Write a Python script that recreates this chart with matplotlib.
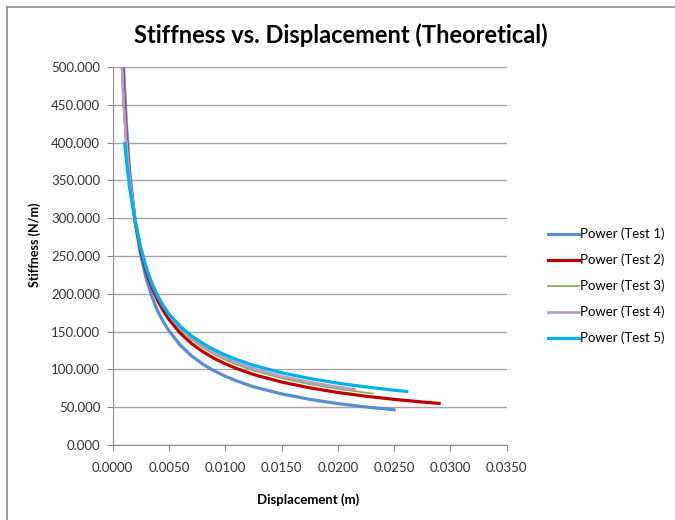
import matplotlib.pyplot as plt
from matplotlib.lines import Line2D
from matplotlib.ticker import FormatStrFormatter, MultipleLocator

plt.rcParams['font.family'] = ['Lato', 'DejaVu Sans']

x1 = [0.0008, 0.0009, 0.001, 0.0012, 0.0015, 0.002, 0.0025, 0.003, 0.0035, 0.004,
      0.0045, 0.005, 0.006, 0.007, 0.008, 0.009, 0.010, 0.011, 0.0125, 0.015,
      0.0175, 0.020, 0.0225, 0.025]
y1 = [574, 527, 488, 427, 363, 294, 250, 219, 195.6, 177,
      162.8, 151, 132, 117.9, 107, 98.2, 91, 84.8, 77, 67.6,
      60.4, 54.8, 50.3, 46.6]

x2 = [0.0008, 0.0009, 0.001, 0.0012, 0.0015, 0.002, 0.0025, 0.003, 0.0035, 0.004,
      0.0045, 0.005, 0.006, 0.007, 0.008, 0.009, 0.010, 0.011, 0.0125, 0.015,
      0.0175, 0.020, 0.0225, 0.025, 0.0275, 0.029]
y2 = [524, 487, 456, 407, 353, 295, 256, 229, 207.6, 191,
      177.3, 166, 148, 134.3, 123.5, 114.7, 107.4, 101.2, 93.3, 83.3,
      75.6, 69.5, 64.5, 60.4, 56.9, 55.0]

x3 = [0.0008, 0.0009, 0.001, 0.0012, 0.0015, 0.002, 0.0025, 0.003, 0.0035, 0.004,
      0.0045, 0.005, 0.006, 0.007, 0.008, 0.009, 0.010, 0.011, 0.0125, 0.015,
      0.0175, 0.020, 0.0225, 0.0231]
y3 = [513, 478, 448, 402, 351, 296, 259, 232, 211.4, 195,
      181.8, 171, 153, 139.5, 128.7, 120.0, 112.6, 106.4, 98.5, 88.3,
      80.5, 74.3, 69.2, 68.1]

x4 = [0.0008, 0.0009, 0.001, 0.0012, 0.0015, 0.002, 0.0025, 0.003, 0.0035, 0.004,
      0.0045, 0.005, 0.006, 0.007, 0.008, 0.009, 0.010, 0.011, 0.0125, 0.015,
      0.0175, 0.020, 0.0215]
y4 = [512, 478, 449, 403, 353, 298, 261, 235, 214.4, 198,
      184.9, 174, 156, 142.4, 131.6, 122.8, 115.4, 109.1, 101.2, 90.9,
      83.0, 76.7, 73.5]

x5 = [0.00107, 0.0012, 0.0015, 0.002, 0.0025, 0.003, 0.0035, 0.004,
      0.0045, 0.005, 0.006, 0.007, 0.008, 0.009, 0.010, 0.011, 0.0125, 0.015,
      0.0175, 0.020, 0.0225, 0.025, 0.0261]
y5 = [399, 378, 340, 295, 260, 233, 212, 197,
      183.4, 173, 157, 144.4, 134.4, 126.1, 119.1, 113.1, 105.5, 95.6,
      88.0, 81.8, 76.8, 72.5, 70.9]

labels = ['Power (Test 1)', 'Power (Test 2)', 'Power (Test 3)',
          'Power (Test 4)', 'Power (Test 5)']

fig = plt.figure(figsize=(6.75, 5.2), dpi=100)
ax = fig.add_axes([0.167, 0.1442, 0.5837, 0.727])

# outer chart border
fig.add_artist(Line2D([7/675, 7/675], [0, 1 - 7/520], color='#8c8c8c', lw=1.2))
fig.add_artist(Line2D([7/675, 1], [1 - 7/520, 1 - 7/520], color='#8c8c8c', lw=1.2))

ax.plot(x1, y1, color='#558ed5', lw=2.3, label=labels[0])
ax.plot(x2, y2, color='#c00000', lw=2.3, label=labels[1])
ax.plot(x3, y3, color='#8fae55', lw=1.3, label=labels[2])
ax.plot(x4, y4, color='#b3a2c7', lw=2.0, label=labels[3])
ax.plot(x5, y5, color='#00b0f0', lw=2.3, label=labels[4])

ax.set_xlim(0, 0.035)
ax.set_ylim(0, 500)
ax.xaxis.set_major_locator(MultipleLocator(0.005))
ax.yaxis.set_major_locator(MultipleLocator(50))
ax.xaxis.set_major_formatter(FormatStrFormatter('%.4f'))
ax.yaxis.set_major_formatter(FormatStrFormatter('%.3f'))

ax.grid(axis='y', color='#a6a6a6', lw=1.0)
ax.set_axisbelow(True)
for s in ['top', 'right']:
    ax.spines[s].set_visible(False)
for s in ['left', 'bottom']:
    ax.spines[s].set_color('#8c8c8c')
ax.tick_params(direction='out', length=4, color='#8c8c8c', labelsize=9.5,
               labelcolor='#333333')
ax.tick_params(axis='x', pad=8)
ax.tick_params(axis='y', pad=5)

ax.set_xlabel('Displacement (m)', fontsize=9.5, fontweight='bold')
ax.set_ylabel('Stiffness (N/m)', fontsize=9, fontweight='bold')
ax.xaxis.set_label_coords(0.497, -0.128)
ax.yaxis.set_label_coords(-0.182, 0.53)
fig.text(0.505, 0.933, 'Stiffness vs. Displacement (Theoretical)', ha='center',
         va='center', fontsize=17, fontweight='bold')

ax.legend(loc='center left', bbox_to_anchor=(1.075, 0.4206), frameon=False,
          fontsize=9.5, handlelength=2.35, labelspacing=1.02, handletextpad=0.1)

fig.savefig('out.png', dpi=100)
